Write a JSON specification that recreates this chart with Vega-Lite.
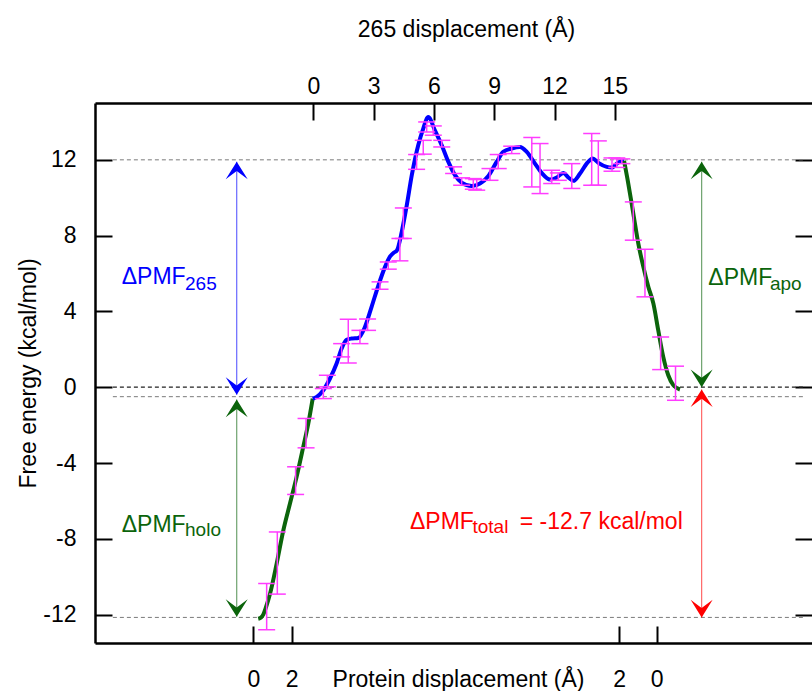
{
  "$schema": "https://vega.github.io/schema/vega-lite/v6.json",
  "width": 717,
  "height": 540,
  "autosize": {"type": "none"},
  "padding": {"left": 95, "top": 103, "right": 0, "bottom": 48},
  "background": "white",
  "config": {
    "view": {"stroke": null},
    "font": "Liberation Sans",
    "axis": {"grid": false, "labelFont": "Liberation Sans", "titleFont": "Liberation Sans", "labelFontSize": 23, "titleFontSize": 23, "titleFontWeight": "normal", "labelColor": "#000", "titleColor": "#000", "tickColor": "#000", "domainColor": "#000", "tickWidth": 2, "domainWidth": 2.5}
  },
  "datasets": {
    "curves": [
      {"series": "holo", "x": -2.74, "y": -12.22},
      {"series": "holo", "x": -2.6, "y": -12.15},
      {"series": "holo", "x": -2.49, "y": -12.0},
      {"series": "holo", "x": -2.35, "y": -11.6},
      {"series": "holo", "x": -2.15, "y": -10.89},
      {"series": "holo", "x": -1.82, "y": -9.3},
      {"series": "holo", "x": -1.49, "y": -7.55},
      {"series": "holo", "x": -1.16, "y": -6.14},
      {"series": "holo", "x": -0.83, "y": -4.73},
      {"series": "holo", "x": -0.5, "y": -3.15},
      {"series": "holo", "x": -0.25, "y": -1.92},
      {"series": "holo", "x": -0.03, "y": -0.6},
      {"series": "265", "x": -0.03, "y": -0.6},
      {"series": "265", "x": 0.17, "y": -0.51},
      {"series": "265", "x": 0.5, "y": -0.16},
      {"series": "265", "x": 0.83, "y": 0.46},
      {"series": "265", "x": 1.16, "y": 1.25},
      {"series": "265", "x": 1.41, "y": 2.04},
      {"series": "265", "x": 1.66, "y": 2.5},
      {"series": "265", "x": 1.91, "y": 2.57},
      {"series": "265", "x": 2.24, "y": 2.6},
      {"series": "265", "x": 2.57, "y": 3.18},
      {"series": "265", "x": 2.9, "y": 4.24},
      {"series": "265", "x": 3.24, "y": 5.38},
      {"series": "265", "x": 3.57, "y": 6.35},
      {"series": "265", "x": 3.82, "y": 6.9},
      {"series": "265", "x": 4.0, "y": 7.1},
      {"series": "265", "x": 4.15, "y": 7.2},
      {"series": "265", "x": 4.4, "y": 8.2},
      {"series": "265", "x": 4.65, "y": 9.6},
      {"series": "265", "x": 4.9, "y": 11.19},
      {"series": "265", "x": 5.22, "y": 12.77},
      {"series": "265", "x": 5.47, "y": 13.65},
      {"series": "265", "x": 5.72, "y": 14.26},
      {"series": "265", "x": 6.05, "y": 13.56},
      {"series": "265", "x": 6.39, "y": 12.77},
      {"series": "265", "x": 6.72, "y": 11.89},
      {"series": "265", "x": 7.05, "y": 11.19},
      {"series": "265", "x": 7.38, "y": 10.8},
      {"series": "265", "x": 7.88, "y": 10.62},
      {"series": "265", "x": 8.29, "y": 10.75},
      {"series": "265", "x": 8.71, "y": 11.15},
      {"series": "265", "x": 9.12, "y": 11.89},
      {"series": "265", "x": 9.45, "y": 12.42},
      {"series": "265", "x": 9.87, "y": 12.6},
      {"series": "265", "x": 10.28, "y": 12.68},
      {"series": "265", "x": 10.62, "y": 12.42},
      {"series": "265", "x": 11.03, "y": 11.8},
      {"series": "265", "x": 11.36, "y": 11.31},
      {"series": "265", "x": 11.78, "y": 10.96},
      {"series": "265", "x": 12.11, "y": 11.07},
      {"series": "265", "x": 12.44, "y": 11.31},
      {"series": "265", "x": 12.69, "y": 11.07},
      {"series": "265", "x": 12.94, "y": 10.89},
      {"series": "265", "x": 13.27, "y": 11.28},
      {"series": "265", "x": 13.6, "y": 11.8},
      {"series": "265", "x": 13.9, "y": 12.07},
      {"series": "265", "x": 14.18, "y": 11.84},
      {"series": "265", "x": 14.6, "y": 11.63},
      {"series": "265", "x": 14.85, "y": 11.59},
      {"series": "265", "x": 15.17, "y": 11.86},
      {"series": "265", "x": 15.46, "y": 11.94},
      {"series": "apo", "x": 15.46, "y": 11.94},
      {"series": "apo", "x": 15.67, "y": 10.75},
      {"series": "apo", "x": 15.92, "y": 9.17},
      {"series": "apo", "x": 16.17, "y": 7.58},
      {"series": "apo", "x": 16.42, "y": 6.35},
      {"series": "apo", "x": 16.67, "y": 5.29},
      {"series": "apo", "x": 16.92, "y": 4.41},
      {"series": "apo", "x": 17.16, "y": 3.01},
      {"series": "apo", "x": 17.41, "y": 1.6},
      {"series": "apo", "x": 17.66, "y": 0.63},
      {"series": "apo", "x": 17.91, "y": 0.11},
      {"series": "apo", "x": 18.24, "y": -0.12}
    ],
    "errors": [
      {"x": -2.32, "lo": -12.8, "hi": -10.36},
      {"x": -1.79, "lo": -10.92, "hi": -7.64},
      {"x": -0.88, "lo": -5.66, "hi": -4.2},
      {"x": -0.36, "lo": -3.2, "hi": -1.65},
      {"x": 0.5, "lo": -0.6, "hi": -0.07},
      {"x": 0.7, "lo": 0.02, "hi": 0.63},
      {"x": 1.41, "lo": 1.6, "hi": 2.3},
      {"x": 1.74, "lo": 1.28, "hi": 3.59},
      {"x": 2.32, "lo": 2.3, "hi": 3.0},
      {"x": 2.7, "lo": 3.0, "hi": 3.6},
      {"x": 3.32, "lo": 5.17, "hi": 5.56},
      {"x": 3.73, "lo": 6.23, "hi": 6.61},
      {"x": 4.31, "lo": 6.67, "hi": 7.85},
      {"x": 4.48, "lo": 7.85, "hi": 9.46},
      {"x": 5.14, "lo": 11.5, "hi": 12.28},
      {"x": 5.47, "lo": 12.3, "hi": 13.03},
      {"x": 5.64, "lo": 13.47, "hi": 14.0},
      {"x": 5.97, "lo": 13.3, "hi": 13.79},
      {"x": 6.39, "lo": 12.68, "hi": 13.03},
      {"x": 6.98, "lo": 11.28, "hi": 11.63},
      {"x": 7.38, "lo": 10.66, "hi": 11.05},
      {"x": 7.96, "lo": 10.45, "hi": 11.01},
      {"x": 8.13, "lo": 10.4, "hi": 10.96},
      {"x": 8.79, "lo": 10.92, "hi": 11.54},
      {"x": 9.2, "lo": 11.54, "hi": 12.28},
      {"x": 9.87, "lo": 12.33, "hi": 12.72},
      {"x": 10.87, "lo": 10.57, "hi": 13.18},
      {"x": 11.28, "lo": 10.22, "hi": 12.86},
      {"x": 11.86, "lo": 10.75, "hi": 11.45},
      {"x": 12.19, "lo": 10.92, "hi": 11.31},
      {"x": 12.86, "lo": 10.49, "hi": 11.8},
      {"x": 13.85, "lo": 10.66, "hi": 13.39},
      {"x": 14.18, "lo": 10.66, "hi": 13.0},
      {"x": 14.86, "lo": 11.4, "hi": 12.1},
      {"x": 15.1, "lo": 11.6, "hi": 12.1},
      {"x": 15.35, "lo": 11.8, "hi": 12.05},
      {"x": 15.92, "lo": 7.76, "hi": 9.78},
      {"x": 16.5, "lo": 4.77, "hi": 7.28},
      {"x": 17.28, "lo": 0.93, "hi": 2.65},
      {"x": 18.02, "lo": -0.69, "hi": 1.11}
    ],
    "refs": [
      {"kind": "gray", "y": 12, "x": -9.97, "x2": 24.42},
      {"kind": "black", "y": 0, "x": -9.97, "x2": 24.42},
      {"kind": "gray", "y": -0.5, "x": -9.97, "x2": 24.42},
      {"kind": "gray", "y": -12.15, "x": -9.97, "x2": 24.42}
    ],
    "arrows": [
      {"series": "265", "x": -3.81, "top": 11.9, "bottom": -0.4},
      {"series": "holo", "x": -3.81, "top": -0.65, "bottom": -12.12},
      {"series": "apo", "x": 19.32, "top": 11.9, "bottom": 0.0},
      {"series": "total", "x": 19.32, "top": -0.12, "bottom": -12.15}
    ],
    "labels": [
      {"series": "265", "part": "main", "text": "ΔPMF", "x": -9.53, "y": 5.47},
      {"series": "265", "part": "sub", "text": "265", "x": -6.38, "y": 5.12},
      {"series": "holo", "part": "main", "text": "ΔPMF", "x": -9.53, "y": -7.64},
      {"series": "holo", "part": "sub", "text": "holo", "x": -6.38, "y": -7.84},
      {"series": "apo", "part": "main", "text": "ΔPMF", "x": 19.65, "y": 5.38},
      {"series": "apo", "part": "sub", "text": "apo", "x": 22.72, "y": 5.12},
      {"series": "total", "part": "main", "text": "ΔPMF", "x": 4.81, "y": -7.46},
      {"series": "total", "part": "sub", "text": "total", "x": 7.92, "y": -7.67},
      {"series": "total", "part": "end", "text": "= -12.7 kcal/mol", "x": 18.38, "y": -7.46}
    ]
  },
  "resolve": {"axis": {"x": "independent", "y": "independent"}},
  "layer": [
    {
      "data": {"name": "refs"},
      "transform": [{"filter": "datum.kind === 'gray'"}],
      "mark": {"type": "rule", "color": "#7a7a7a", "strokeWidth": 1, "strokeDash": [4, 3]},
      "encoding": {
        "x": {"field": "x", "type": "quantitative", "scale": {"domain": [-10.86, 24.81], "nice": false, "zero": false}, "axis": null},
        "x2": {"field": "x2"},
        "y": {"field": "y", "type": "quantitative", "scale": {"domain": [-13.5, 15], "nice": false, "zero": false}, "axis": null}
      }
    },
    {
      "data": {"name": "refs"},
      "transform": [{"filter": "datum.kind === 'black'"}],
      "mark": {"type": "rule", "color": "#222", "strokeWidth": 1.2, "strokeDash": [4, 3]},
      "encoding": {
        "x": {"field": "x", "type": "quantitative", "scale": {"domain": [-10.86, 24.81], "nice": false, "zero": false}, "axis": null},
        "x2": {"field": "x2"},
        "y": {"field": "y", "type": "quantitative", "scale": {"domain": [-13.5, 15], "nice": false, "zero": false}, "axis": null}
      }
    },
    {
      "data": {"name": "arrows"},
      "mark": {"type": "rule", "strokeWidth": 1.2, "opacity": 0.6},
      "encoding": {
        "x": {"field": "x", "type": "quantitative", "scale": {"domain": [-10.86, 24.81], "nice": false, "zero": false}, "axis": null},
        "y": {"field": "top", "type": "quantitative", "scale": {"domain": [-13.5, 15], "nice": false, "zero": false}, "axis": null},
        "y2": {"field": "bottom"},
        "color": {"field": "series", "type": "nominal", "scale": {"domain": ["265", "holo", "apo", "total"], "range": ["#0000ff", "#0b640b", "#0b640b", "#ff0000"]}, "legend": null}
      }
    },
    {
      "data": {"name": "curves"},
      "mark": {"type": "line", "strokeWidth": 4, "interpolate": "monotone"},
      "encoding": {
        "x": {"field": "x", "type": "quantitative", "scale": {"domain": [-10.86, 24.81], "nice": false, "zero": false}, "axis": null},
        "y": {"field": "y", "type": "quantitative", "scale": {"domain": [-13.5, 15], "nice": false, "zero": false}, "axis": null},
        "color": {"field": "series", "type": "nominal", "scale": {"domain": ["265", "holo", "apo", "total"], "range": ["#0000ff", "#0b640b", "#0b640b", "#ff0000"]}, "legend": null}
      }
    },
    {
      "data": {"name": "errors"},
      "mark": {"type": "rule", "color": "#ff3cff", "strokeWidth": 1.5},
      "encoding": {
        "x": {"field": "x", "type": "quantitative", "scale": {"domain": [-10.86, 24.81], "nice": false, "zero": false}, "axis": null},
        "y": {"field": "lo", "type": "quantitative", "scale": {"domain": [-13.5, 15], "nice": false, "zero": false}, "axis": null},
        "y2": {"field": "hi"}
      }
    },
    {
      "data": {"name": "errors"},
      "mark": {"type": "tick", "color": "#ff3cff", "orient": "horizontal", "size": 17, "thickness": 1.5, "opacity": 1},
      "encoding": {
        "x": {"field": "x", "type": "quantitative", "scale": {"domain": [-10.86, 24.81], "nice": false, "zero": false}, "axis": null},
        "y": {"field": "lo", "type": "quantitative", "scale": {"domain": [-13.5, 15], "nice": false, "zero": false}, "axis": null}
      }
    },
    {
      "data": {"name": "errors"},
      "mark": {"type": "tick", "color": "#ff3cff", "orient": "horizontal", "size": 17, "thickness": 1.5, "opacity": 1},
      "encoding": {
        "x": {"field": "x", "type": "quantitative", "scale": {"domain": [-10.86, 24.81], "nice": false, "zero": false}, "axis": null},
        "y": {"field": "hi", "type": "quantitative", "scale": {"domain": [-13.5, 15], "nice": false, "zero": false}, "axis": null}
      }
    },
    {
      "data": {"name": "arrows"},
      "mark": {"type": "point", "filled": true, "opacity": 1, "size": 484, "shape": "M0,0L1,1.6L0,0.85L-1,1.6Z"},
      "encoding": {
        "x": {"field": "x", "type": "quantitative", "scale": {"domain": [-10.86, 24.81], "nice": false, "zero": false}, "axis": null},
        "y": {"field": "top", "type": "quantitative", "scale": {"domain": [-13.5, 15], "nice": false, "zero": false}, "axis": null},
        "color": {"field": "series", "type": "nominal", "scale": {"domain": ["265", "holo", "apo", "total"], "range": ["#0000ff", "#0b640b", "#0b640b", "#ff0000"]}, "legend": null}
      }
    },
    {
      "data": {"name": "arrows"},
      "mark": {"type": "point", "filled": true, "opacity": 1, "size": 484, "shape": "M0,0L1,-1.6L0,-0.85L-1,-1.6Z"},
      "encoding": {
        "x": {"field": "x", "type": "quantitative", "scale": {"domain": [-10.86, 24.81], "nice": false, "zero": false}, "axis": null},
        "y": {"field": "bottom", "type": "quantitative", "scale": {"domain": [-13.5, 15], "nice": false, "zero": false}, "axis": null},
        "color": {"field": "series", "type": "nominal", "scale": {"domain": ["265", "holo", "apo", "total"], "range": ["#0000ff", "#0b640b", "#0b640b", "#ff0000"]}, "legend": null}
      }
    },
    {
      "data": {"name": "labels"},
      "transform": [{"filter": "datum.part === 'main'"}],
      "mark": {"type": "text", "fontSize": 23, "align": "left", "baseline": "alphabetic"},
      "encoding": {
        "x": {"field": "x", "type": "quantitative", "scale": {"domain": [-10.86, 24.81], "nice": false, "zero": false}, "axis": null},
        "y": {"field": "y", "type": "quantitative", "scale": {"domain": [-13.5, 15], "nice": false, "zero": false}, "axis": null},
        "text": {"field": "text"},
        "color": {"field": "series", "type": "nominal", "scale": {"domain": ["265", "holo", "apo", "total"], "range": ["#0000ff", "#0b640b", "#0b640b", "#ff0000"]}, "legend": null}
      }
    },
    {
      "data": {"name": "labels"},
      "transform": [{"filter": "datum.part === 'sub'"}],
      "mark": {"type": "text", "fontSize": 19, "align": "left", "baseline": "alphabetic"},
      "encoding": {
        "x": {"field": "x", "type": "quantitative", "scale": {"domain": [-10.86, 24.81], "nice": false, "zero": false}, "axis": null},
        "y": {"field": "y", "type": "quantitative", "scale": {"domain": [-13.5, 15], "nice": false, "zero": false}, "axis": null},
        "text": {"field": "text"},
        "color": {"field": "series", "type": "nominal", "scale": {"domain": ["265", "holo", "apo", "total"], "range": ["#0000ff", "#0b640b", "#0b640b", "#ff0000"]}, "legend": null}
      }
    },
    {
      "data": {"name": "labels"},
      "transform": [{"filter": "datum.part === 'end'"}],
      "mark": {"type": "text", "fontSize": 23, "align": "right", "baseline": "alphabetic"},
      "encoding": {
        "x": {"field": "x", "type": "quantitative", "scale": {"domain": [-10.86, 24.81], "nice": false, "zero": false}, "axis": null},
        "y": {"field": "y", "type": "quantitative", "scale": {"domain": [-13.5, 15], "nice": false, "zero": false}, "axis": null},
        "text": {"field": "text"},
        "color": {"field": "series", "type": "nominal", "scale": {"domain": ["265", "holo", "apo", "total"], "range": ["#0000ff", "#0b640b", "#0b640b", "#ff0000"]}, "legend": null}
      }
    },
    {
      "data": {"name": "curves"},
      "mark": {"type": "point", "opacity": 0},
      "encoding": {
        "x": {"field": "x", "type": "quantitative", "scale": {"domain": [-10.86, 24.81], "nice": false, "zero": false},
          "axis": {"orient": "bottom", "values": [-2.985, -1.075, 15.21, 17.08], "labelExpr": "datum.value < -2 ? '0' : (datum.value < 0 ? '2' : (datum.value < 16 ? '2' : '0'))", "tickSize": -17, "labelPadding": 42, "labelFlush": false, "labelOverlap": false, "title": "Protein displacement (Å)", "titleX": 363, "titleY": 43, "titleAlign": "center", "titleAnchor": "start", "titleBaseline": "alphabetic"}},
        "y": {"field": "y", "type": "quantitative", "scale": {"domain": [-13.5, 15], "nice": false, "zero": false},
          "axis": {"orient": "left", "values": [-12, -8, -4, 0, 4, 8, 12], "labelExpr": "'' + datum.value", "tickSize": -17, "labelPadding": 36, "labelFlush": false, "labelOverlap": false, "title": "Free energy (kcal/mol)", "titleX": -60, "titleY": 270, "titleAngle": -90, "titleAlign": "center", "titleAnchor": "start", "titleBaseline": "alphabetic"}}
      }
    },
    {
      "data": {"name": "curves"},
      "mark": {"type": "point", "opacity": 0},
      "encoding": {
        "x": {"field": "x", "type": "quantitative", "scale": {"domain": [-10.86, 24.81], "nice": false, "zero": false},
          "axis": {"orient": "top", "values": [0, 3, 6, 9, 12, 15], "labelExpr": "'' + datum.value", "tickSize": -17, "labelPadding": 22, "labelFlush": false, "labelOverlap": false, "title": "265 displacement (Å)", "titleX": 371, "titleY": -67, "titleAlign": "center", "titleAnchor": "start", "titleBaseline": "alphabetic"}},
        "y": {"field": "y", "type": "quantitative", "scale": {"domain": [-13.5, 15], "nice": false, "zero": false},
          "axis": {"orient": "right", "values": [-12, -8, -4, 0, 4, 8, 12], "tickSize": -17, "labels": false, "domain": false, "title": null}}
      }
    }
  ]
}
